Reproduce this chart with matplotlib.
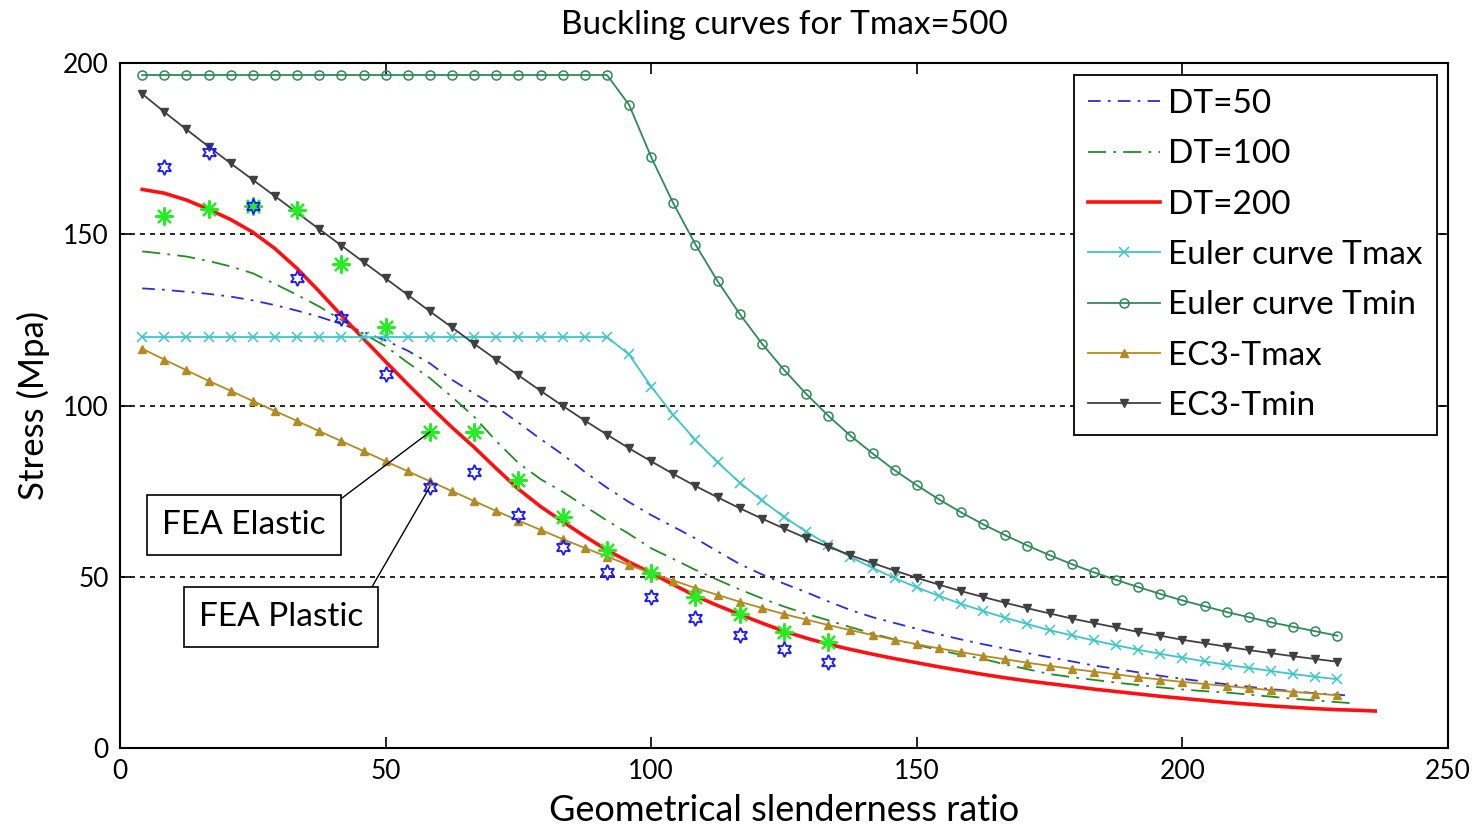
import matplotlib
matplotlib.use("Agg")
import matplotlib.pyplot as plt

plt.rcParams['font.family'] = ['Lato', 'DejaVu Sans']

# slenderness grid used by the curves
lam = [4.17, 8.33, 12.5, 16.67, 20.83, 25.0, 29.17, 33.33, 37.5, 41.67,
       45.83, 50.0, 54.17, 58.33, 62.5, 66.67, 70.83, 75.0, 79.17, 83.33,
       87.5, 91.67, 95.83, 100.0, 104.17, 108.33, 112.5, 116.67, 120.83, 125.0,
       129.17, 133.33, 137.5, 141.67, 145.83, 150.0, 154.17, 158.33, 162.5, 166.67,
       170.83, 175.0, 179.17, 183.33, 187.5, 191.67, 195.83, 200.0, 204.17, 208.33,
       212.5, 216.67, 220.83, 225.0, 229.17]

dt50 = [134.2, 133.8, 133.2, 132.6, 131.8, 130.7, 129.3, 127.7, 125.9, 123.8,
        121.5, 119.0, 116.0, 112.3, 107.5, 103.5, 99.6, 95.0, 90.2, 85.7,
        80.6, 76.0, 71.8, 68.0, 64.6, 61.2, 57.4, 53.7, 50.7, 48.0,
        45.5, 42.8, 40.3, 38.2, 36.5, 34.8, 33.2, 31.7, 30.3, 29.0,
        27.7, 26.5, 25.3, 24.1, 23.1, 22.1, 21.1, 20.2, 19.4, 18.6,
        17.9, 17.2, 16.6, 16.0, 15.6, 15.4]
dt50_x = lam + [230.6]

dt100 = [145.0, 144.3, 143.5, 142.2, 140.6, 138.6, 135.5, 132.3, 128.9, 125.0,
         121.0, 117.3, 112.5, 108.0, 102.5, 96.7, 89.6, 83.2, 78.5, 74.8,
         70.6, 66.4, 62.5, 58.3, 55.2, 52.0, 49.1, 46.3, 43.7, 41.3,
         39.2, 37.3, 35.3, 33.4, 31.7, 30.1, 28.6, 27.2, 26.0, 24.4,
         23.0, 21.6, 20.7, 19.9, 19.1, 18.4, 17.7, 17.1, 16.6, 16.2,
         15.6, 15.0, 14.4, 13.9, 13.4, 13.0]
dt100_x = lam + [232.5]

dt200 = [163.1, 162.0, 160.0, 157.3, 154.3, 150.6, 145.8, 140.0, 133.3, 126.3,
         119.5, 112.8, 106.2, 99.8, 93.6, 87.8, 81.6, 75.6, 70.5, 66.1,
         61.8, 57.8, 54.3, 51.1, 47.7, 44.4, 41.6, 39.0, 36.5, 34.1,
         32.1, 30.3, 28.8, 27.4, 26.1, 24.9, 23.7, 22.6, 21.5, 20.5,
         19.6, 18.8, 18.0, 17.2, 16.5, 15.8, 15.1, 14.5, 13.9, 13.3,
         12.8, 12.3, 11.9, 11.5, 11.2, 11.0, 10.8]
dt200_x = lam + [233.33, 236.3]

euler_tmax = [120.0, 120.0, 120.0, 120.0, 120.0, 120.0, 120.0, 120.0, 120.0, 120.0,
              120.0, 120.0, 120.0, 120.0, 120.0, 120.0, 120.0, 120.0, 120.0, 120.0,
              120.0, 120.0, 114.9, 105.5, 97.2, 89.9, 83.4, 77.5, 72.3, 67.5,
              63.2, 59.3, 55.8, 52.6, 49.6, 46.9, 44.4, 42.1, 40.0, 38.0,
              36.2, 34.4, 32.9, 31.4, 30.0, 28.7, 27.5, 26.4, 25.3, 24.3,
              23.4, 22.5, 21.6, 20.8, 20.1]

euler_tmin = [196.5, 196.5, 196.5, 196.5, 196.5, 196.5, 196.5, 196.5, 196.5, 196.5,
              196.5, 196.5, 196.5, 196.5, 196.5, 196.5, 196.5, 196.5, 196.5, 196.5,
              196.5, 196.5, 187.8, 172.5, 159.0, 147.0, 136.3, 126.7, 118.1, 110.4,
              103.4, 97.0, 91.2, 86.0, 81.1, 76.7, 72.6, 68.8, 65.3, 62.1,
              59.1, 56.3, 53.7, 51.3, 49.1, 47.0, 45.0, 43.1, 41.4, 39.7,
              38.2, 36.7, 35.4, 34.1, 32.8]

ec3_tmax = [116.6, 113.4, 110.3, 107.2, 104.3, 101.3, 98.4, 95.5, 92.5, 89.6,
            86.7, 83.7, 80.8, 77.9, 75.0, 72.1, 69.2, 66.4, 63.7, 61.0,
            58.4, 55.9, 53.4, 51.1, 48.9, 46.7, 44.7, 42.7, 40.9, 39.1,
            37.5, 35.9, 34.4, 33.0, 31.6, 30.3, 29.1, 28.0, 26.9, 25.9,
            24.9, 24.0, 23.1, 22.3, 21.5, 20.7, 20.0, 19.3, 18.7, 18.1,
            17.5, 16.9, 16.4, 15.9, 15.4]

ec3_tmin = [191.0, 185.7, 180.6, 175.6, 170.7, 165.9, 161.1, 156.3, 151.5, 146.7,
            141.9, 137.1, 132.3, 127.5, 122.8, 118.0, 113.4, 108.8, 104.3, 99.9,
            95.6, 91.5, 87.5, 83.7, 80.0, 76.5, 73.2, 70.0, 67.0, 64.1,
            61.3, 58.8, 56.3, 54.0, 51.8, 49.7, 47.7, 45.8, 44.1, 42.4,
            40.8, 39.3, 37.8, 36.5, 35.2, 33.9, 32.8, 31.6, 30.6, 29.6,
            28.6, 27.7, 26.8, 26.0, 25.2]

# FEA results
fea_x = [8.33, 16.67, 25.0, 33.33, 41.67, 50.0, 58.33, 66.67,
         75.0, 83.33, 91.67, 100.0, 108.33, 116.67, 125.0, 133.33]
fea_elastic = [155.3, 157.3, 158.4, 157.1, 141.4, 123.0, 92.3, 92.3,
               78.2, 67.4, 57.8, 51.2, 44.2, 39.0, 34.0, 31.0]
fea_plastic = [169.6, 174.0, 158.3, 137.2, 125.7, 109.3, 76.3, 80.5,
               68.1, 58.8, 51.3, 44.0, 38.1, 33.0, 29.0, 25.2]

fig, ax = plt.subplots(figsize=(14.75, 8.25), dpi=100)
fig.subplots_adjust(left=0.0814, right=0.9817, top=0.9236, bottom=0.0933)

ax.plot(dt50_x, dt50, color='#2a2ae6', lw=1.3, ls=(0, (7, 4, 1.5, 4)), label='DT=50')
ax.plot(dt100_x, dt100, color='#1f8f1f', lw=1.3, ls=(0, (10, 4, 1.5, 4)), label='DT=100')
ax.plot(dt200_x, dt200, color='#ff1010', lw=2.6, label='DT=200')
ax.plot(lam, euler_tmax, color='#3cc6c8', lw=1.3, marker='x', ms=7, mew=1.1,
        label='Euler curve Tmax')
ax.plot(lam, euler_tmin, color='#2e8b57', lw=1.3, marker='o', ms=6.5, mfc='none',
        mew=1.1, label='Euler curve Tmin')
ax.plot(lam, ec3_tmax, color='#b38b22', lw=1.3, marker='^', ms=6,
        label='EC3-Tmax')
ax.plot(lam, ec3_tmin, color='#404040', lw=1.3, marker='v', ms=6,
        label='EC3-Tmin')

ax.plot(fea_x, fea_elastic, ls='none', marker=(8, 2, 0), ms=13, mew=1.6,
        color='#22ee22', mec='#22ee22')
ax.plot(fea_x, fea_plastic, ls='none', marker=(6, 1, 0), ms=11, mfc='none',
        mec='#1a1aff', mew=1.3)

ax.set_xlim(0, 250)
ax.set_ylim(0, 200)
ax.set_xticks([0, 50, 100, 150, 200, 250])
ax.set_yticks([0, 50, 100, 150, 200])
ax.tick_params(direction='in', length=8, width=1.2, top=True, right=True,
               labelsize=19, pad=8)
for s in ax.spines.values():
    s.set_linewidth(1.5)
for yv in [50, 100, 150]:
    ax.axhline(yv, color='black', lw=1.2, ls=(0, (3, 3)), zorder=0)

ax.set_title('Buckling curves for Tmax=500', fontsize=24, pad=21)
ax.set_xlabel('Geometrical slenderness ratio', fontsize=26, labelpad=7)
ax.set_ylabel('Stress (Mpa)', fontsize=25, labelpad=9.5)

box = dict(boxstyle='square,pad=0.45', fc='white', ec='black', lw=1.2)
ax.annotate('FEA Elastic', xy=(58.33, 92.3), xytext=(23.3, 65.0),
            fontsize=24, ha='center', va='center', bbox=box,
            arrowprops=dict(arrowstyle='-', color='black', lw=1.0,
                            relpos=(1, 1), shrinkA=0, shrinkB=0))
ax.annotate('FEA Plastic', xy=(58.33, 76.3), xytext=(30.3, 38.2),
            fontsize=24, ha='center', va='center', bbox=box,
            arrowprops=dict(arrowstyle='-', color='black', lw=1.0,
                            relpos=(1, 1), shrinkA=0, shrinkB=0))

leg = ax.legend(loc='upper right', bbox_to_anchor=(0.9917, 0.9825),
                borderaxespad=0, fontsize=24, handlelength=2.16,
                handletextpad=0.24, labelspacing=0.61, fancybox=False,
                edgecolor='black', framealpha=1, borderpad=0.42)
leg.get_frame().set_linewidth(1.3)

plt.savefig('out.png')
